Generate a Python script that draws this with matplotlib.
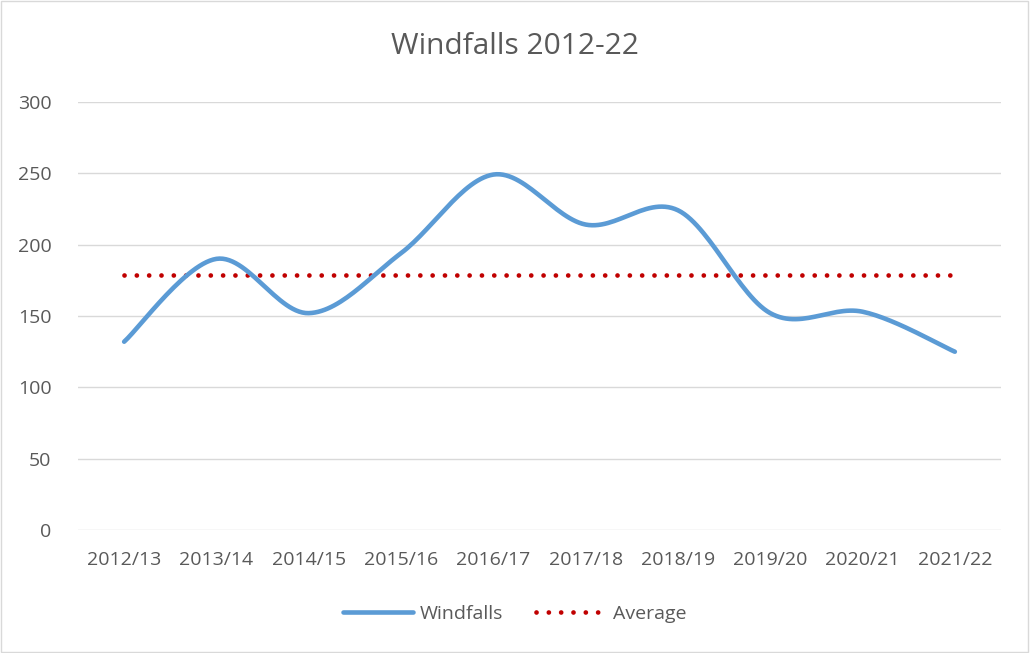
import numpy as np
import matplotlib.pyplot as plt
from matplotlib.patches import Rectangle

# ==========================
# Data
# ==========================

years = ["2012/13", "2013/14", "2014/15", "2015/16", "2016/17",
         "2017/18", "2018/19", "2019/20", "2020/21", "2021/22"]
windfalls = [132, 190, 152, 194, 249, 214, 224, 152, 153, 125]
average = 178.5

plt.rcParams["font.family"] = ["Open Sans", "DejaVu Sans"]
TEXT = "#595959"


def smooth(xs, ys, n=30):
    # Excel-style smoothing: cubic Bezier with Catmull-Rom control points
    xs = np.asarray(xs, float)
    ys = np.asarray(ys, float)
    px, py = [], []
    for i in range(len(xs) - 1):
        x0, y0 = xs[max(i - 1, 0)], ys[max(i - 1, 0)]
        x1, y1 = xs[i], ys[i]
        x2, y2 = xs[i + 1], ys[i + 1]
        x3, y3 = xs[min(i + 2, len(xs) - 1)], ys[min(i + 2, len(ys) - 1)]
        c1 = (x1 + (x2 - x0) / 6, y1 + (y2 - y0) / 6)
        c2 = (x2 - (x3 - x1) / 6, y2 - (y3 - y1) / 6)
        t = np.linspace(0, 1, n)
        px.extend((1 - t) ** 3 * x1 + 3 * (1 - t) ** 2 * t * c1[0] + 3 * (1 - t) * t ** 2 * c2[0] + t ** 3 * x2)
        py.extend((1 - t) ** 3 * y1 + 3 * (1 - t) ** 2 * t * c1[1] + 3 * (1 - t) * t ** 2 * c2[1] + t ** 3 * y2)
    return px, py


fig = plt.figure(figsize=(10.3, 6.53), dpi=100)
fig.patches.append(Rectangle((0.001, 0.001), 0.997, 0.997, transform=fig.transFigure,
                             fill=False, edgecolor="#D9D9D9", linewidth=1))

ax = fig.add_axes([78 / 1030, 122.7 / 653, 923 / 1030, 428.6 / 653])

x = np.arange(len(years))
sx, sy = smooth(x, windfalls)
ax.plot(sx, sy, color="#5B9BD5", linewidth=3.3, solid_capstyle="round", label="Windfalls", zorder=3)
ax.plot([x[0], x[-1]], [average, average], color="#C00000", linewidth=3.4,
        linestyle=(0, (0.01, 2.6)), dash_capstyle="round", label="Average", zorder=2)

ax.set_xlim(-0.5, len(years) - 0.5)
ax.set_ylim(0, 300)
ax.set_yticks(range(0, 301, 50))
ax.set_xticks(x)
ax.set_xticklabels(years)
ax.grid(axis="y", color="#D9D9D9", linewidth=1)
ax.set_axisbelow(True)
for s in ax.spines.values():
    s.set_visible(False)
ax.tick_params(length=0, labelsize=14, labelcolor=TEXT)
ax.tick_params(axis="x", pad=15)
ax.tick_params(axis="y", pad=19)

fig.text(0.5, 1 - 46 / 653, "Windfalls 2012-22", ha="center", va="center", fontsize=21.5, color=TEXT)

fig.legend(loc="center", bbox_to_anchor=(0.5, 1 - 614 / 653), ncol=2, frameon=False,
           fontsize=14, labelcolor=TEXT, handlelength=3.6, columnspacing=1.7, handletextpad=0.35)

fig.savefig("out.png", dpi=100)
